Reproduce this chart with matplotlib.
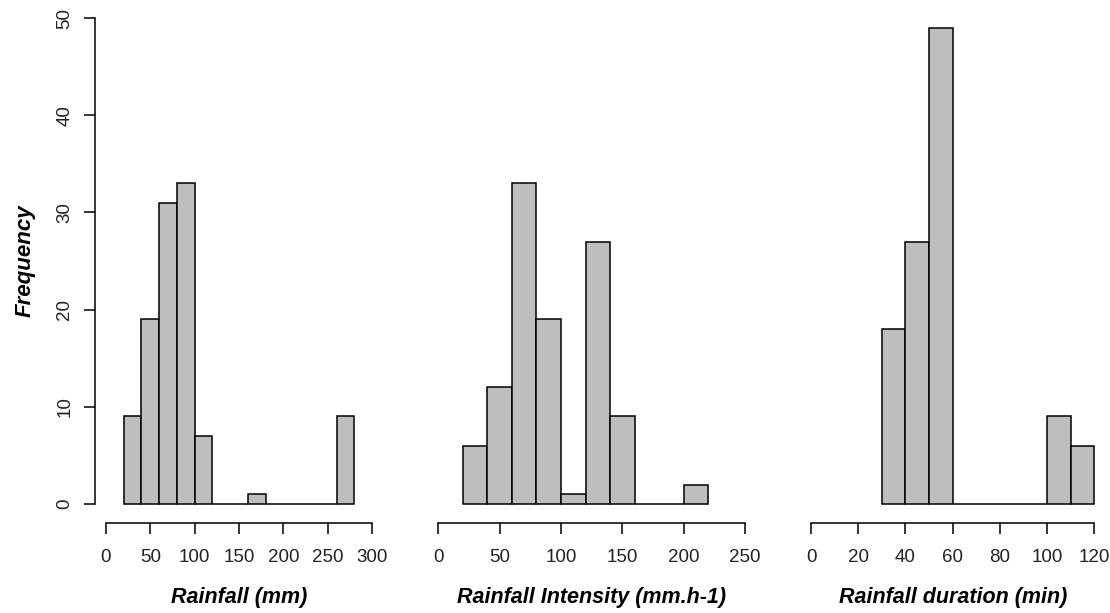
import numpy as np
import matplotlib.pyplot as plt

plt.rcParams['font.family'] = ['Liberation Sans', 'DejaVu Sans']

#- datos (limites de clase y frecuencias)
bordes_lluvia = [20, 40, 60, 80, 100, 120, 140, 160, 180, 200, 220, 240, 260, 280]
frec_lluvia = [9, 19, 31, 33, 7, 0, 0, 1, 0, 0, 0, 0, 9]

bordes_intensidad = [20, 40, 60, 80, 100, 120, 140, 160, 180, 200, 220]
frec_intensidad = [6, 12, 33, 19, 1, 27, 9, 0, 0, 2]

bordes_duracion = [30, 40, 50, 60, 70, 80, 90, 100, 110, 120]
frec_duracion = [18, 27, 49, 0, 0, 0, 0, 9, 6]

etiquetas = ['Rainfall (mm)', 'Rainfall Intensity (mm.h-1)', 'Rainfall duration (min)']
xticks = [np.arange(0, 301, 50), np.arange(0, 251, 50), np.arange(0, 121, 20)]
xlims = [(0, 300), (0, 250), (0, 120)]
yticks = [0, 10, 20, 30, 40, 50]

# posiciones de los paneles (pixeles)
W, H = 1110., 613.
pos_x = [(95.3, 382.9), (426.0, 757.3), (799.7, 1105.7)]
y0, y1 = 523.4, -1.4

fig = plt.figure(figsize=(11.1, 6.13), dpi=100)

datos = [(bordes_lluvia, frec_lluvia), (bordes_intensidad, frec_intensidad),
         (bordes_duracion, frec_duracion)]

for i, (bordes, frec) in enumerate(datos):
    xa, xb = pos_x[i]
    ax = fig.add_axes([xa / W, 1 - y0 / H, (xb - xa) / W, (y0 - y1) / H])
    bordes = np.array(bordes)
    ax.bar(bordes[:-1], frec, width=np.diff(bordes), align='edge',
           color='#bebebe', edgecolor='black', linewidth=1.1)
    lo, hi = xlims[i]
    d = 0.04 * (hi - lo)
    ax.set_xlim(lo - d, hi + d)
    ax.set_ylim(-2, 52)
    for s in ['top', 'right']:
        ax.spines[s].set_visible(False)
    ax.spines['bottom'].set_bounds(lo, hi)
    ax.spines['bottom'].set_linewidth(1.1)
    ax.set_xticks(xticks[i])
    ax.tick_params(axis='x', direction='out', length=7.7, width=1.1,
                   labelsize=13.5, pad=11, labelcolor='#222222')
    if i == 0:
        ax.spines['left'].set_bounds(0, 50)
        ax.spines['left'].set_linewidth(1.1)
        ax.set_yticks(yticks)
        ax.set_yticklabels([str(v) for v in yticks], rotation=90, va='center')
        ax.tick_params(axis='y', direction='out', length=7.7, width=1.1,
                       labelsize=13.5, pad=8, labelcolor='#222222')
        ax.text((25 - xa) / (xb - xa), 0.5, 'Frequency', transform=ax.transAxes,
                rotation=90, ha='center', va='center', fontsize=16,
                fontweight='bold', fontstyle='italic')
    else:
        ax.spines['left'].set_visible(False)
        ax.set_yticks([])
    ax.text(0.5, (y0 - 598) / (y0 - y1), etiquetas[i], transform=ax.transAxes,
            ha='center', va='center', fontsize=15.5, fontweight='bold',
            fontstyle='italic')
    ax.patch.set_visible(False)

plt.savefig('out.png', dpi=100)
